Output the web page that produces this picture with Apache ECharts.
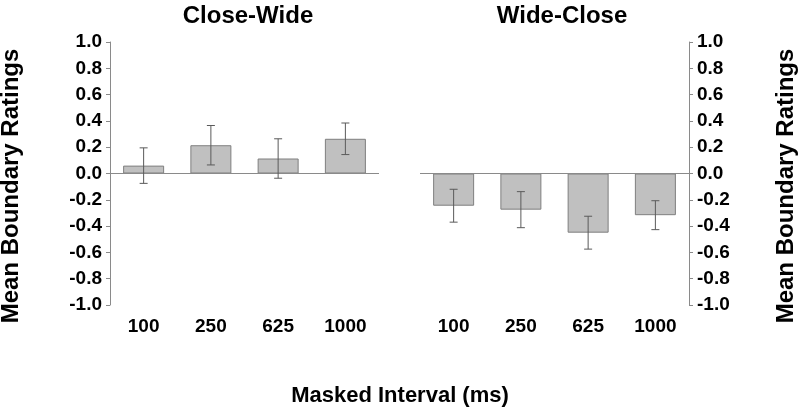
<!DOCTYPE html>
<html>
<head>
<meta charset="utf-8">
<script src="https://cdn.jsdelivr.net/npm/echarts@6/dist/echarts.min.js"></script>
<style>
  html, body { margin: 0; padding: 0; background: #fff; }
  #chart { width: 800px; height: 410px; }
</style>
</head>
<body>
<div id="chart"></div>
<script>
// masked interval categories (ms)
const categories = ['100', '250', '625', '1000']

// Close-Wide panel
const closeWideMeans = [0.06, 0.215, 0.114, 0.264]
const closeWideErr = [0.135, 0.15, 0.15, 0.12]

// Wide-Close panel
const wideCloseMeans = [-0.245, -0.275, -0.45, -0.317]
const wideCloseErr = [0.125, 0.137, 0.125, 0.11]

const yMin = -1.0
const yMax = 1.0
const yStep = 0.2

const font = 'Liberation Sans, Arial, sans-serif'

// [index, low, high] rows for the error bars
function errRows(means, errs) {
    return means.map((m, i) => [i, m - errs[i], m + errs[i]])
}

function renderErr(params, api) {
    const x = api.value(0)
    const lo = api.coord([x, api.value(1)])
    const hi = api.coord([x, api.value(2)])
    const cap = 4
    const style = { stroke: '#5a5a5a', lineWidth: 1 }
    return {
        type: 'group',
        children: [
            { type: 'line', shape: { x1: lo[0], y1: lo[1], x2: hi[0], y2: hi[1] }, style: style },
            { type: 'line', shape: { x1: hi[0] - cap, y1: hi[1], x2: hi[0] + cap, y2: hi[1] }, style: style },
            { type: 'line', shape: { x1: lo[0] - cap, y1: lo[1], x2: lo[0] + cap, y2: lo[1] }, style: style }
        ]
    }
}

function xAxisFor(gridIndex) {
    return {
        type: 'category',
        gridIndex: gridIndex,
        data: categories,
        axisLine: { show: false, onZero: false },
        axisTick: { show: false },
        axisLabel: { margin: 12, color: '#000', fontSize: 19, fontWeight: 'bold', fontFamily: font }
    }
}

function yAxisFor(gridIndex, pos) {
    return {
        type: 'value',
        gridIndex: gridIndex,
        position: pos,
        min: yMin,
        max: yMax,
        interval: yStep,
        axisLine: { show: true, lineStyle: { color: '#8a8a8a', width: 1 } },
        axisTick: { show: true, length: 4, lineStyle: { color: '#8a8a8a' } },
        splitLine: { show: false },
        axisLabel: {
            margin: 8,
            color: '#000',
            fontSize: 19,
            fontWeight: 'bold',
            fontFamily: font,
            formatter: v => v.toFixed(1)
        }
    }
}

const zeroLine = {
    silent: true,
    symbol: 'none',
    label: { show: false },
    lineStyle: { color: '#8a8a8a', width: 1, type: 'solid' },
    data: [{ yAxis: 0 }]
}

const barStyle = { color: '#c0c0c0', borderColor: '#7f7f7f', borderWidth: 1 }

const option = {
    animation: false,
    backgroundColor: '#fff',
    title: [
        { text: 'Close-Wide', left: 243, top: -1, textAlign: 'center',
          textStyle: { fontSize: 24, fontWeight: 'bold', color: '#000', fontFamily: font } },
        { text: 'Wide-Close', left: 557, top: -1, textAlign: 'center',
          textStyle: { fontSize: 24, fontWeight: 'bold', color: '#000', fontFamily: font } }
    ],
    grid: [
        { left: 110, top: 42, width: 269, height: 263 },
        { left: 420, top: 42, width: 269, height: 263 }
    ],
    xAxis: [xAxisFor(0), xAxisFor(1)],
    yAxis: [yAxisFor(0, 'left'), yAxisFor(1, 'right')],
    series: [
        {
            type: 'bar', xAxisIndex: 0, yAxisIndex: 0,
            data: closeWideMeans, barWidth: 41,
            itemStyle: barStyle, markLine: zeroLine
        },
        {
            type: 'custom', xAxisIndex: 0, yAxisIndex: 0, z: 5,
            data: errRows(closeWideMeans, closeWideErr),
            encode: { x: 0, y: [1, 2] },
            renderItem: renderErr
        },
        {
            type: 'bar', xAxisIndex: 1, yAxisIndex: 1,
            data: wideCloseMeans, barWidth: 41,
            itemStyle: barStyle, markLine: zeroLine
        },
        {
            type: 'custom', xAxisIndex: 1, yAxisIndex: 1, z: 5,
            data: errRows(wideCloseMeans, wideCloseErr),
            encode: { x: 0, y: [1, 2] },
            renderItem: renderErr
        }
    ],
    graphic: [
        { type: 'text', x: 11, y: 186, rotation: Math.PI / 2,
          style: { text: 'Mean Boundary Ratings', font: 'bold 24px ' + font, fill: '#000',
                   textAlign: 'center', textVerticalAlign: 'middle' } },
        { type: 'text', x: 786, y: 186, rotation: Math.PI / 2,
          style: { text: 'Mean Boundary Ratings', font: 'bold 24px ' + font, fill: '#000',
                   textAlign: 'center', textVerticalAlign: 'middle' } },
        { type: 'text', x: 400, y: 396,
          style: { text: 'Masked Interval (ms)', font: 'bold 22px ' + font, fill: '#000',
                   textAlign: 'center', textVerticalAlign: 'middle' } }
    ]
}

const myChart = echarts.init(document.getElementById('chart'))
myChart.setOption(option, true)
</script>
</body>
</html>
